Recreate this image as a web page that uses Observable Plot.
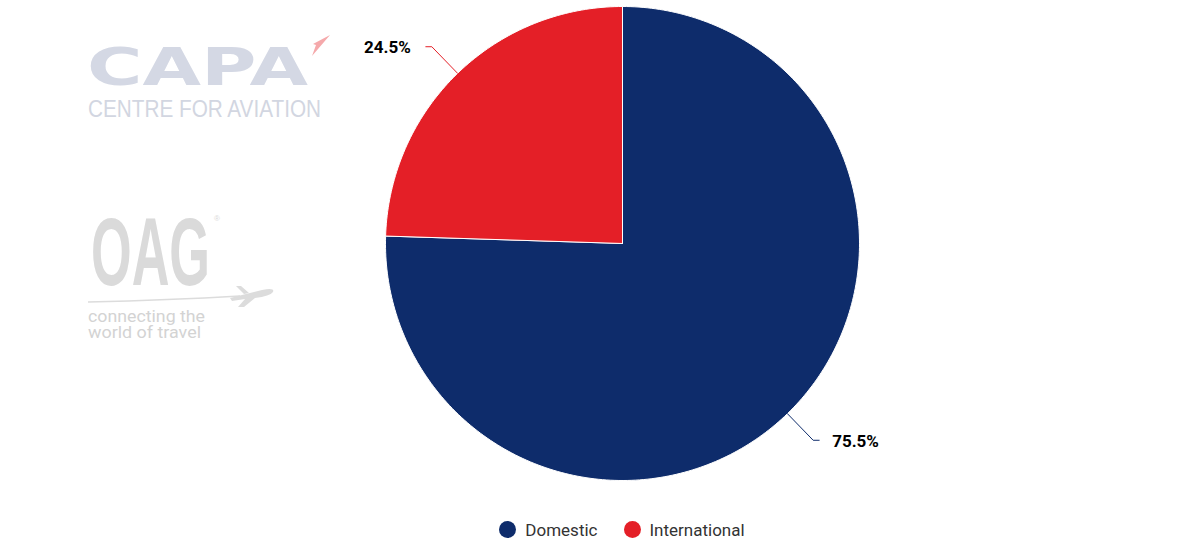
<!DOCTYPE html>
<html>
<head>
<meta charset="utf-8">
<script src="https://cdn.jsdelivr.net/npm/d3@7"></script>
<script src="https://cdn.jsdelivr.net/npm/@observablehq/plot@0.6"></script>
<style>
  html, body { margin: 0; padding: 0; background: #fff; }
  #wrap { position: relative; width: 1188px; height: 550px; overflow: hidden; font-family: Roboto, "Liberation Sans", sans-serif; }
  #logos { position: absolute; left: 0; top: 0; }
  #chart { position: absolute; left: 0; top: 0; }
  #legend { position: absolute; left: 0; top: 507px; width: 1188px; height: 45px; box-sizing: border-box; padding-left: 56px;
            display: flex; justify-content: center; align-items: center; gap: 26px; font-size: 17px; color: #333; }
  .item { display: flex; align-items: center; gap: 9px; }
  .sw { width: 17px; height: 17px; border-radius: 50%; display: inline-block; }
</style>
</head>
<body>
<div id="wrap">
  <svg id="logos" width="1188" height="505">
    <!-- CAPA watermark -->
    <text x="87" y="85" font-family="DejaVu Sans, Liberation Sans, sans-serif" font-weight="bold" font-size="52" fill="#d4d8e4" textLength="221" lengthAdjust="spacingAndGlyphs">CAPA</text>
    <path d="M330,35 L313,44 L316,45 L312,56 Z" fill="#f5a9ab"/>
    <text x="88" y="117" font-family="Liberation Sans, Arial, sans-serif" font-size="23" fill="#d2d6e1" textLength="233" lengthAdjust="spacingAndGlyphs">CENTRE FOR AVIATION</text>
    <!-- OAG watermark -->
    <text x="91" y="285" font-family="Liberation Sans Narrow, Liberation Sans, sans-serif" font-weight="bold" font-size="97" fill="#dadada"><tspan textLength="119" lengthAdjust="spacingAndGlyphs">OAG</tspan><tspan font-size="8" font-weight="normal" dx="4" dy="-64">®</tspan></text>
    <path d="M88,302 Q170,300 240,296" stroke="#dcdcdc" stroke-width="1.5" fill="none"/>
    <path d="M230,298 L262,290 Q275,287 273,292 Q270,296 255,298 L244,307 L238,307 L245,299 L232,301 Z M236,286 L241,286 L249,293 L244,294 Z" fill="#dcdcdc"/>
    <text font-family="Roboto, sans-serif" font-size="16" fill="#d3d3d3"><tspan x="88" y="322" textLength="117" lengthAdjust="spacingAndGlyphs">connecting the</tspan><tspan x="88" y="338" textLength="113" lengthAdjust="spacingAndGlyphs">world of travel</tspan></text>
  </svg>
  <div id="chart"></div>
  <div id="legend"></div>
</div>
<script>
// ---- Data ----
const categories = ["Domestic", "International"];
const values = [75.5, 24.5];
const colors = ["#0e2c6b", "#e41f27"];

// ---- Layout (pixels) ----
const W = 1188, H = 505, CX = 622, CY = 243, R = 237;

const pie = d3.pie().sort(null).value(d => d.value);
const arcs = pie(categories.map((name, i) => ({name, value: values[i]})));

// slice polygons in unit-radius coordinates (y up)
const poly = [];
for (const a of arcs) {
  const n = Math.max(4, Math.ceil((a.endAngle - a.startAngle) / (Math.PI / 180)));
  poly.push({name: a.data.name, x: 0, y: 0});
  for (let k = 0; k <= n; k++) {
    const t = a.startAngle + (a.endAngle - a.startAngle) * k / n;
    poly.push({name: a.data.name, x: Math.sin(t), y: Math.cos(t)});
  }
  poly.push({name: a.data.name, x: 0, y: 0});
}

// label connectors
const elbowR = 1 + 37 / R, horiz = 6 / R;
const conn = [], labels = [];
for (const a of arcs) {
  const m = (a.startAngle + a.endAngle) / 2;
  const sx = Math.sin(m), sy = Math.cos(m);
  const ex = elbowR * sx, ey = elbowR * sy;
  const side = sx >= 0 ? 1 : -1;
  const fx = ex + side * horiz;
  conn.push({name: a.data.name, x: sx, y: sy}, {name: a.data.name, x: ex, y: ey}, {name: a.data.name, x: fx, y: ey});
  labels.push({name: a.data.name, x: fx, y: ey, side, text: d3.format(".1f")(a.data.value) + "%"});
}

const chart = Plot.plot({
  width: W, height: H,
  margin: 0,
  style: {fontFamily: "Roboto, 'Liberation Sans', sans-serif", background: "transparent", overflow: "visible"},
  x: {domain: [-CX / R, (W - CX) / R], axis: null},
  y: {domain: [-(H - CY) / R, CY / R], axis: null},
  color: {domain: categories, range: colors},
  marks: [
    Plot.line(poly, {x: "x", y: "y", z: "name", fill: "name", stroke: "white", strokeWidth: 1, strokeLinejoin: "round"}),
    Plot.line(conn, {x: "x", y: "y", z: "name", stroke: "name", strokeWidth: 1}),
    Plot.text(labels.filter(d => d.side < 0), {x: "x", y: "y", text: "text", textAnchor: "end", dx: -15, dy: 1, fontSize: 17, fontWeight: "bold", fill: "#000"}),
    Plot.text(labels.filter(d => d.side > 0), {x: "x", y: "y", text: "text", textAnchor: "start", dx: 13, dy: 1, fontSize: 17, fontWeight: "bold", fill: "#000"})
  ]
});
document.getElementById("chart").appendChild(chart);

// legend
const leg = document.getElementById("legend");
categories.forEach((c, i) => {
  const it = document.createElement("div");
  it.className = "item";
  it.innerHTML = `<span class="sw" style="background:${colors[i]}"></span><span>${c}</span>`;
  leg.appendChild(it);
});
</script>
</body>
</html>
